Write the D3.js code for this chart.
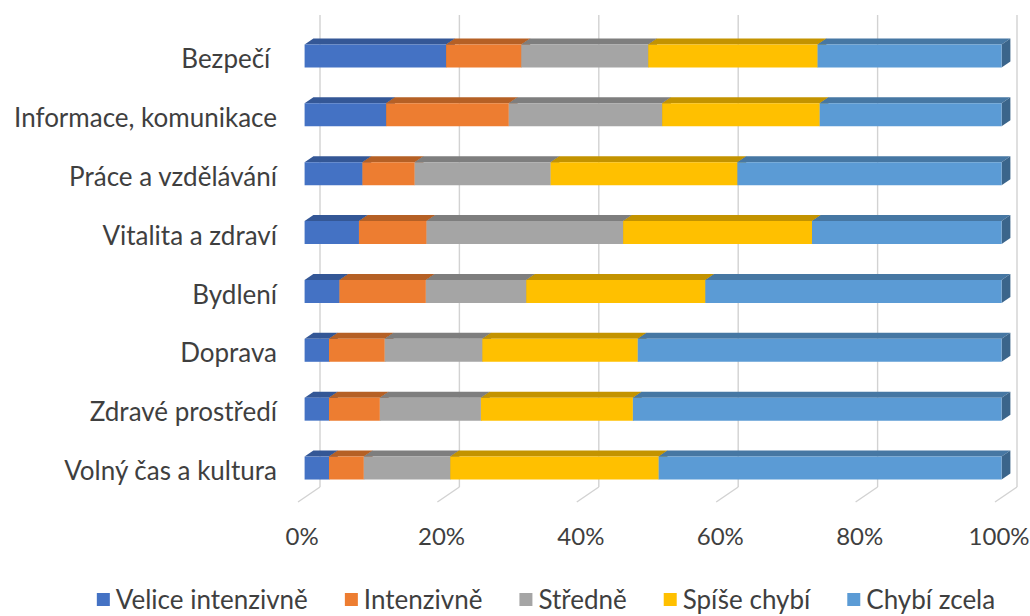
<!DOCTYPE html>
<html>
<head>
<meta charset="utf-8">
<script src="https://cdn.jsdelivr.net/npm/d3@7"></script>
<style>
  html, body { margin: 0; padding: 0; background: #ffffff; }
  svg text { font-family: Lato, "Open Sans", sans-serif; fill: #3f3f3f; }
</style>
</head>
<body>
<svg id="chart" width="1030" height="616"></svg>
<script>
// Categories (top to bottom) and share of answers per category, in percent
const categories = [
  "Bezpečí ",
  "Informace, komunikace",
  "Práce a vzdělávání",
  "Vitalita a zdraví",
  "Bydlení",
  "Doprava",
  "Zdravé prostředí",
  "Volný čas a kultura"
];
const seriesNames = ["Velice intenzivně", "Intenzivně", "Středně", "Spíše chybí", "Chybí zcela"];
const veliceIntenzivne = [20.3, 11.7, 8.3, 7.8, 5.0, 3.5, 3.5, 3.5];
const intenzivne       = [10.8, 17.6, 7.5, 9.7, 12.4, 8.0, 7.3, 5.0];
const stredne          = [18.2, 22.0, 19.5, 28.2, 14.4, 14.0, 14.5, 12.4];
const spiseChybi       = [24.3, 22.6, 26.8, 27.1, 25.7, 22.3, 21.8, 29.9];
const chybiZcela       = [26.4, 26.1, 37.9, 27.2, 42.5, 52.2, 52.9, 49.2];
const tickValues = [0, 20, 40, 60, 80, 100];

const colors = ["#4472C4", "#ED7D31", "#A5A5A5", "#FFC000", "#5B9BD5"];

// Rows for d3.stack
const seriesValues = [veliceIntenzivne, intenzivne, stredne, spiseChybi, chybiZcela];
const rows = categories.map((c, i) => {
  const r = { category: c };
  seriesNames.forEach((s, k) => { r[s] = seriesValues[k][i]; });
  return r;
});
const stacked = d3.stack().keys(seriesNames)(rows);

const svg = d3.select("#chart");

// Oblique projection: floor front edge, with depth running up and to the right
const floorY = 502;
const wallTop = 15;
const depth = { dx: 22, dy: -15 };
const barFront = 0.3, barBack = 0.7;

const x = d3.scaleLinear().domain([0, 100]).range([298, 995]);
const y = d3.scaleBand().domain(categories).range([31, floorY])
  .paddingInner(0.61).paddingOuter(0.305);

// Back-wall gridlines and floor depth lines
const grid = svg.append("g").attr("stroke", "#d2d2d2").attr("stroke-width", 1.4).attr("fill", "none");
tickValues.forEach(t => {
  const xf = x(t), xb = x(t) + depth.dx, yb = floorY + depth.dy;
  grid.append("line").attr("x1", xb).attr("y1", wallTop).attr("x2", xb).attr("y2", yb);
  grid.append("line").attr("x1", xb).attr("y1", yb).attr("x2", xf).attr("y2", floorY);
});

// 3D stacked bars: front face, top face, right side face
const ox = depth.dx * barFront, oy = depth.dy * barFront;
const tx = depth.dx * (barBack - barFront), ty = depth.dy * (barBack - barFront);
const poly = pts => "M" + pts.map(p => p.join(",")).join("L") + "Z";

const bars = svg.append("g");
stacked.forEach((layer, k) => {
  const base = d3.color(colors[k]);
  const topCol = base.darker(0.75).formatHex();
  const sideCol = base.darker(1.2).formatHex();
  layer.forEach(d => {
    const cat = d.data.category;
    const x0 = x(d[0]) + ox, x1 = x(d[1]) + ox;
    const y0 = y(cat) + oy, y1 = y(cat) + y.bandwidth() + oy;
    const g = bars.append("g");
    g.append("path").attr("d", poly([[x0, y0], [x1, y0], [x1 + tx, y0 + ty], [x0 + tx, y0 + ty]]))
      .attr("fill", topCol);
    g.append("path").attr("d", poly([[x1, y0], [x1 + tx, y0 + ty], [x1 + tx, y1 + ty], [x1, y1]]))
      .attr("fill", sideCol);
    g.append("path").attr("d", poly([[x0, y0], [x1, y0], [x1, y1], [x0, y1]]))
      .attr("fill", colors[k]);
  });
});

// Category labels
svg.append("g").selectAll("text").data(categories).join("text")
  .attr("x", 277)
  .attr("y", d => y(d) + y.bandwidth() / 2 + oy + 3)
  .attr("dy", "0.35em")
  .attr("text-anchor", "end")
  .style("white-space", "pre")
  .style("font-size", "26px")
  .text(d => d);

// Percentage axis along the bars' front plane
const xAxisScale = x.copy().range(x.range().map(v => v + ox - 3));
const axis = svg.append("g").attr("transform", `translate(0, 528)`)
  .call(d3.axisBottom(xAxisScale).tickValues(tickValues).tickSize(0).tickPadding(0)
    .tickFormat(d => d + "%"));
axis.select(".domain").remove();
axis.selectAll("text").style("font-size", "24px").attr("fill", "#3f3f3f")
  .style("font-family", "Lato, 'Open Sans', sans-serif");

// Legend, centred beneath the plot
const legend = svg.append("g");
const items = legend.selectAll("g").data(seriesNames).join("g");
items.append("rect").attr("width", 13).attr("height", 13).attr("y", -7)
  .attr("fill", (d, i) => colors[i]);
items.append("text").attr("x", 19).attr("dy", "0.35em").style("font-size", "26px").text(d => d);
let cursor = 0;
const gap = 37;
items.each(function () {
  const w = 19 + this.querySelector("text").getComputedTextLength();
  d3.select(this).attr("transform", `translate(${cursor},0)`);
  cursor += w + gap;
});
const total = cursor - gap;
legend.attr("transform", `translate(${546 - total / 2}, 600)`);
</script>
</body>
</html>
